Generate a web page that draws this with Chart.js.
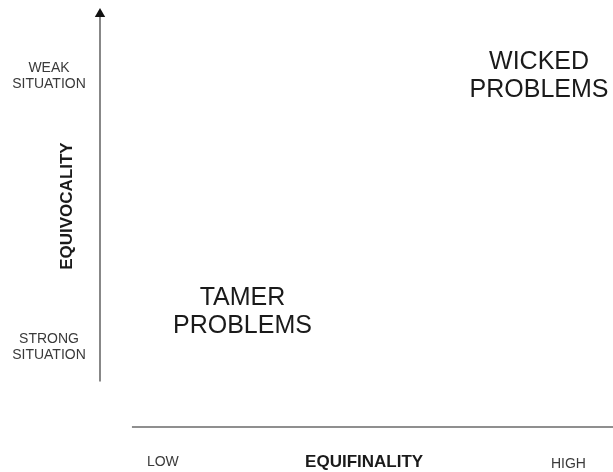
<!DOCTYPE html>
<html>
<head>
<meta charset="utf-8">
<script src="https://cdn.jsdelivr.net/npm/chart.js@4.4.1/dist/chart.umd.min.js"></script>
<style>
html, body { margin: 0; padding: 0; background: #fff; }
</style>
</head>
<body>
<canvas id="myChart" width="613" height="472"></canvas>
<script>
// quadrant labels, placed in (equifinality, equivocality) space, 0..10
const quadrantLabels = [['WICKED', 'PROBLEMS'], ['TAMER', 'PROBLEMS']]
const quadrantEquifinality = [8.66, 2.81]
const quadrantEquivocality = [8.5, 2.77]

// horizontal axis: end labels + title
const xTickLabels = ['LOW', 'HIGH']
const xTickValues = [1.24, 9.24]
const xTitle = 'EQUIFINALITY'
const xTitleValue = 5.21

// vertical axis: end labels + title
const yTickLabels = [['WEAK', 'SITUATION'], ['STRONG', 'SITUATION']]
const yTickValues = [8.5, 1.93]
const yTitle = 'EQUIVOCALITY'
const yTitleValue = 5.35

// how far each axis line runs
const xAxisRange = [0.63, 10.18]
const yAxisRange = [1.1, 10]

const FONT = '"Liberation Sans", Arial, Helvetica, sans-serif'

const labelPlugin = {
	id: 'labels',
	afterDatasetsDraw(chart) {
		const ctx = chart.ctx
		const xs = chart.scales.x
		const ys = chart.scales.y
		const axisX = xs.getPixelForValue(0)
		const axisY = ys.getPixelForValue(0)
		ctx.save()
		ctx.textAlign = 'center'
		ctx.textBaseline = 'middle'

		// big quadrant labels
		ctx.fillStyle = '#1a1a1a'
		ctx.font = '25px ' + FONT
		const meta = chart.getDatasetMeta(2)
		meta.data.forEach((pt, i) => {
			const lines = quadrantLabels[i]
			const lh = 28
			lines.forEach((l, j) => {
				ctx.fillText(l, pt.x, pt.y + (j - (lines.length - 1) / 2) * lh)
			})
		})

		// y side labels
		ctx.fillStyle = '#3a3a3a'
		ctx.font = '14px ' + FONT
		yTickLabels.forEach((lines, i) => {
			const py = ys.getPixelForValue(yTickValues[i])
			lines.forEach((l, j) => {
				ctx.fillText(l, axisX - 51, py + (j - (lines.length - 1) / 2) * 16.5)
			})
		})

		// x end labels
		xTickLabels.forEach((l, i) => {
			const px = xs.getPixelForValue(xTickValues[i])
			ctx.fillText(l, px, axisY + 35 + i * 2)
		})

		// axis titles
		ctx.fillStyle = '#1a1a1a'
		ctx.font = 'bold 17px ' + FONT
		ctx.fillText(xTitle, xs.getPixelForValue(xTitleValue), axisY + 35.5)

		ctx.translate(axisX - 33, ys.getPixelForValue(yTitleValue))
		ctx.rotate(-Math.PI / 2)
		ctx.fillText(yTitle, 0, 0)
		ctx.restore()
	}
}

new Chart(document.getElementById('myChart'), {
	type: 'scatter',
	data: {
		datasets: [
			{
				type: 'line',
				data: [{x: 0, y: yAxisRange[0]}, {x: 0, y: yAxisRange[1]}],
				borderColor: '#6a6a6a',
				borderWidth: 1.6,
				pointRadius: [0, 6],
				pointStyle: 'triangle',
				pointBackgroundColor: '#111',
				pointBorderWidth: 0,
				clip: false,
			},
			{
				type: 'line',
				data: [{x: xAxisRange[0], y: 0}, {x: xAxisRange[1], y: 0}],
				borderColor: '#6a6a6a',
				borderWidth: 1.6,
				pointRadius: [0, 6],
				pointStyle: 'triangle',
				pointRotation: 90,
				pointBackgroundColor: '#111',
				pointBorderWidth: 0,
				clip: false,
			},
			{
				data: quadrantEquifinality.map((x, i) => ({x: x, y: quadrantEquivocality[i]})),
				pointRadius: 0,
				clip: false,
			},
		],
	},
	options: {
		responsive: false,
		animation: false,
		events: [],
		layout: {
			padding: {left: 100, right: 0, top: 14, bottom: 45}
		},
		scales: {
			x: {display: false, min: 0, max: 10},
			y: {display: false, min: 0, max: 10},
		},
		plugins: {
			legend: {display: false},
			tooltip: {enabled: false},
		},
	},
	plugins: [labelPlugin],
})
</script>
</body>
</html>
